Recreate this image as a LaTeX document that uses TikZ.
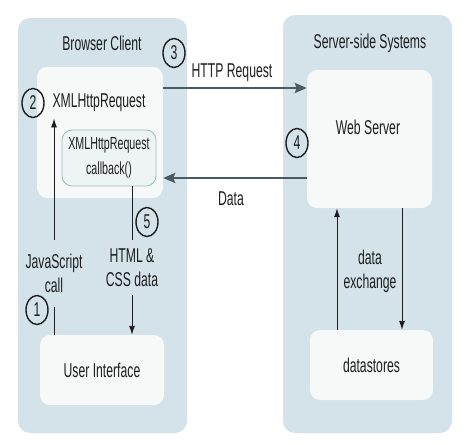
\documentclass[tikz,border=0pt]{standalone}
\usepackage{fontspec}
\setmainfont{Liberation Sans}[FakeStretch=0.61]
\usepackage{xcolor}
\usepackage{tikz}
\usetikzlibrary{arrows.meta,positioning,shapes.geometric}
\definecolor{panel}{HTML}{D3E3E9}
\definecolor{boxbg}{HTML}{F7F9F9}
\definecolor{cbbg}{HTML}{EEF4F4}
\definecolor{cbline}{HTML}{9CBCBC}
\definecolor{wire}{HTML}{4A5A62}
\definecolor{ink}{HTML}{1E1E1E}

\begin{document}
\begin{tikzpicture}[x=1pt,y=-1pt,
  every node/.style={font=\fontsize{20}{24}\selectfont,text=ink},
  box/.style={fill=boxbg,rounded corners=10pt,inner sep=0pt},
  lbl/.style={align=center,inner sep=0pt},
  stepnum/.style={ellipse,draw=ink,line width=1.4pt,fill=none,minimum width=22pt,minimum height=29pt,inner sep=0pt},
  thinflow/.style={ink,line width=0.9pt,-{Latex[length=9pt,width=6pt]}},
  bigflow/.style={wire,line width=2.8pt,-{Stealth[length=12pt,width=10pt,inset=2pt]}}]
\useasboundingbox (0,0) rectangle (467,445);

% the two sides
\fill[panel,rounded corners=12pt] (18,18) rectangle (187,433);
\fill[panel,rounded corners=12pt] (283,15) rectangle (452,433);
\node (client) at (102,43) {Browser Client};
\node (server) at (370,43) {Server-side Systems};

% browser side
\node[box,minimum width=126pt,minimum height=131pt] (xhr) at (100,132.5) {};
\node (xhrlbl) at (99,103) {XMLHttpRequest};
\node[box,fill=cbbg,draw=cbline,line width=0.8pt,minimum width=94pt,minimum height=56pt,align=center,
  font=\fontsize{17.5}{25}\selectfont] (cb) at (109,158) {XMLHttpRequest\\callback()};
\node[box,minimum width=124pt,minimum height=70pt] (ui) at (102,370) {User Interface};
\node[lbl,minimum height=67pt] (js) at (54,273.5) {JavaScript\\call};
\node[lbl,minimum height=55pt] (html) at (132,267.5) {HTML \&\\CSS data};

% server side
\node[box,minimum width=125pt,minimum height=138pt] (web) at (369.5,139) {};
\node (weblbl) at (368,127) {Web Server};
\node[box,minimum width=123pt,minimum height=70pt] (ds) at (371.5,365) {datastores};
\node[lbl] (dx) at (370,271) {data\\exchange};

% requests and replies
\draw[bigflow] ([yshift=44.5pt]xhr.east) -- ([yshift=51pt]web.west);
\draw[bigflow] ([yshift=-39pt]web.west) -- ([yshift=-45.5pt]xhr.east);
\node (http) at (232,73) {HTTP Request};
\node (data) at (231,199) {Data};

\draw[ink,line width=0.9pt] (ui.north -| js.south) -- (js.south);
\draw[thinflow,shorten >=3pt] (js.north) -- (xhrlbl.south -| js.north);
\draw[ink,line width=0.9pt] (cb.south -| html.north) -- (html.north);
\draw[thinflow] (html.south) -- (ui.north -| html.south);
\draw[thinflow] ([xshift=-34.5pt]ds.north) -- ([xshift=-34.5pt]ds.north |- web.south);
\draw[thinflow] ([xshift=32.5pt]web.south) -- ([xshift=32.5pt]web.south |- ds.north);

% step numbers
\node[stepnum] (n1) at (37,310) {1};
\node[stepnum] (n2) at (33,103) {2};
\node[stepnum] (n3) at (174,53) {3};
\node[stepnum] (n4) at (297,143) {4};
\node[stepnum] (n5) at (147,222) {5};
\end{tikzpicture}
\end{document}
